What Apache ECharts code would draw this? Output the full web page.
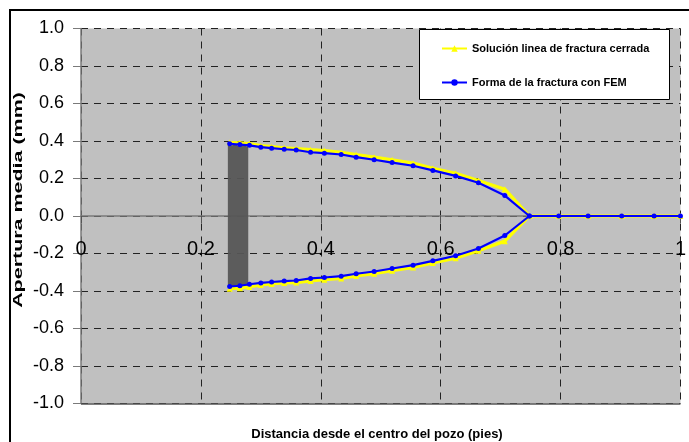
<!DOCTYPE html>
<html>
<head>
<meta charset="utf-8">
<script src="https://cdn.jsdelivr.net/npm/echarts@6/dist/echarts.min.js"></script>
<style>
html,body{margin:0;padding:0;background:#fff;}
#chart{width:689px;height:442px;}
</style>
</head>
<body>
<div id="chart"></div>
<script>
// Distance from well centre (ft)
const xDist = [0.248, 0.265, 0.281, 0.300, 0.318, 0.339, 0.359, 0.383, 0.406, 0.434, 0.459, 0.489, 0.519, 0.554, 0.587, 0.625, 0.663, 0.707, 0.748, 0.797, 0.846, 0.902, 0.956, 1.0];
// Yellow: closed fracture line solution (upper / lower)
const yellowUpper = [0.392, 0.390, 0.386, 0.375, 0.370, 0.364, 0.360, 0.354, 0.349, 0.339, 0.328, 0.314, 0.300, 0.282, 0.255, 0.228, 0.189, 0.143, 0, 0, 0, 0, 0, 0];
const yellowLower = [-0.388, -0.385, -0.378, -0.368, -0.362, -0.357, -0.355, -0.346, -0.340, -0.333, -0.320, -0.308, -0.292, -0.274, -0.250, -0.225, -0.185, -0.134, 0];
// Blue: fracture shape with FEM (upper / lower)
const blueUpper = [0.385, 0.381, 0.377, 0.367, 0.362, 0.356, 0.352, 0.340, 0.335, 0.328, 0.314, 0.300, 0.285, 0.268, 0.243, 0.214, 0.177, 0.109, 0, 0, 0, 0, 0, 0];
const blueLower = [-0.376, -0.372, -0.364, -0.357, -0.352, -0.347, -0.344, -0.333, -0.328, -0.321, -0.308, -0.296, -0.280, -0.262, -0.239, -0.212, -0.173, -0.104, 0];
// Hatched (closed) zone
const hatchX = [0.245, 0.279];
const hatchY = [-0.378, 0.388];
// Ticks
const xTicks = [0, 0.2, 0.4, 0.6, 0.8, 1];
const yTicks = [-1.0, -0.8, -0.6, -0.4, -0.2, 0.0, 0.2, 0.4, 0.6, 0.8, 1.0];

const nameYellow = 'Solución linea de fractura cerrada';
const nameBlue = 'Forma de la fractura con FEM';

function pairs(xs, ys) { return ys.map((v, i) => [xs[i], v]); }

const FONT = 'Liberation Sans, Arial, sans-serif';
const chart = echarts.init(document.getElementById('chart'), null, {renderer: 'canvas'});

const GRID_H = 375;
const option = {
  animation: false,
  backgroundColor: '#ffffff',
  grid: {left: 81, top: 28.5, width: 610, height: GRID_H, backgroundColor: '#c0c0c0', show: true, borderWidth: 0},
  legend: {
    orient: 'vertical',
    left: 436, top: 38, z: 20,
    itemWidth: 25, itemHeight: 8, itemGap: 23,
    data: [nameYellow, nameBlue],
    textStyle: {fontFamily: FONT, fontWeight: 'bold', fontSize: 11, color: '#000'}
  },
  xAxis: {
    type: 'value', min: xTicks[0], max: xTicks[xTicks.length - 1], interval: 0.2,
    position: 'bottom', offset: -GRID_H / 2,
    axisLine: {onZero: false, lineStyle: {color: '#7a7a7a', width: 1.5}},
    axisTick: {show: true, length: 7, lineStyle: {color: '#555'}},
    axisLabel: {fontFamily: FONT, fontSize: 20, color: '#000', margin: 23},
    splitLine: {show: true, lineStyle: {color: '#222', type: [7, 6], width: 1}}
  },
  yAxis: {
    type: 'value', min: yTicks[0], max: yTicks[yTicks.length - 1], interval: 0.2,
    axisLine: {show: true, onZero: false, lineStyle: {color: '#7a7a7a', width: 1.5}},
    axisTick: {show: true, inside: false, length: 8, lineStyle: {color: '#7a7a7a'}},
    axisLabel: {fontFamily: FONT, fontSize: 18, color: '#000', margin: 17,
      formatter: v => v.toFixed(1)},
    splitLine: {show: true, lineStyle: {color: '#222', type: [7, 6], width: 1}}
  },
  series: [
    {
      type: 'line', name: '_hatch', data: [], z: 1, silent: true,
      markArea: {
        silent: true,
        itemStyle: {color: '#565656', opacity: 0.95},
        data: [[{coord: [hatchX[0], hatchY[0]]}, {coord: [hatchX[1], hatchY[1]]}]]
      },
      markLine: {
        silent: true, symbol: 'none', label: {show: false},
        lineStyle: {color: '#555', type: 'solid', width: 1.5},
        data: [{yAxis: yTicks[0]}]
      }
    },
    {
      type: 'line', name: nameYellow, data: pairs(xDist, yellowUpper), z: 3,
      symbol: 'triangle', symbolSize: 6,
      lineStyle: {color: '#ffff00', width: 3.2}, itemStyle: {color: '#ffff00'}
    },
    {
      type: 'line', name: nameYellow, data: pairs(xDist, yellowLower), z: 3,
      symbol: 'triangle', symbolSize: 6,
      lineStyle: {color: '#ffff00', width: 3.2}, itemStyle: {color: '#ffff00'}
    },
    {
      type: 'line', name: nameBlue, data: pairs(xDist, blueUpper), z: 4,
      symbol: 'circle', symbolSize: 5,
      lineStyle: {color: '#0000ff', width: 2.2}, itemStyle: {color: '#0000ff'}
    },
    {
      type: 'line', name: nameBlue, data: pairs(xDist, blueLower), z: 4,
      symbol: 'circle', symbolSize: 5,
      lineStyle: {color: '#0000ff', width: 2.2}, itemStyle: {color: '#0000ff'}
    }
  ],
  graphic: [
    {type: 'rect', z: 0, shape: {x: 10, y: 10, width: 700, height: 460},
      style: {fill: 'none', stroke: '#000', lineWidth: 2}, silent: true},
    {type: 'rect', z: 10, shape: {x: 419.5, y: 29.5, width: 250, height: 70},
      style: {fill: '#fff', stroke: '#000', lineWidth: 1}, silent: true},
    {type: 'text', z: 10, x: 18, y: 200, rotation: Math.PI / 2, scaleX: 1.65,
      style: {text: 'Apertura media (mm)', font: 'bold 13px ' + FONT, fill: '#000',
        align: 'center', verticalAlign: 'middle'}},
    {type: 'text', z: 10, x: 377, y: 434,
      style: {text: 'Distancia desde el centro del pozo (pies)', font: 'bold 13px ' + FONT, fill: '#000',
        align: 'center', verticalAlign: 'middle'}}
  ]
};
chart.setOption(option);
</script>
</body>
</html>
